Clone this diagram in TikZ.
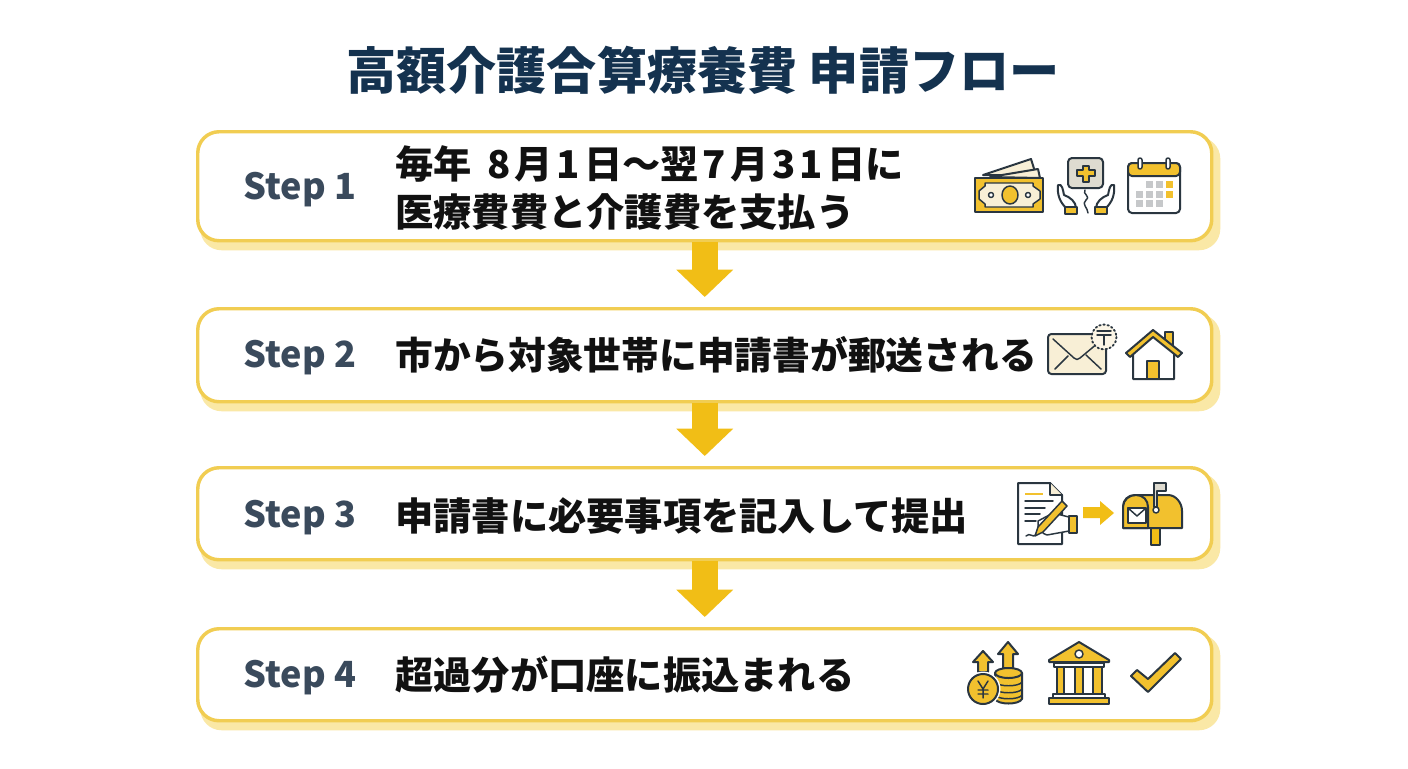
\documentclass[tikz,border=0pt]{standalone}
\usepackage{fontspec}
\usetikzlibrary{arrows.meta,calc}
\newfontfamily\jpfont{Noto Sans CJK JP}
\definecolor{navy}{HTML}{14324F}
\definecolor{slate}{HTML}{3A4A5C}
\definecolor{ink}{HTML}{111111}
\definecolor{edgey}{HTML}{F1CD52}
\definecolor{shade}{HTML}{FAE8A6}
\definecolor{gold}{HTML}{F2C12E}
\definecolor{arrowy}{HTML}{F1BE16}
\definecolor{icdark}{HTML}{2A3640}
\definecolor{cream}{HTML}{F8EFD6}
\definecolor{greyc}{HTML}{C6C8CA}
\definecolor{panel}{HTML}{DEDBD0}
\tikzset{
  stepbox/.style={draw=edgey,fill=white,line width=2.6pt,rounded corners=16pt,minimum width=760.5pt,anchor=north west,inner sep=0pt},
  stepshadow/.style={fill=shade,rounded corners=16pt,minimum width=765pt,anchor=north west,inner sep=0pt},
  steplabel/.style={anchor=west,inner sep=0pt,text=slate,font=\jpfont\bfseries\fontsize{27}{27}\selectfont},
  steptext/.style={anchor=west,inner sep=0pt,text=ink,align=left,font=\jpfont\bfseries\fontsize{28.7}{36}\selectfont},
  titletext/.style={inner sep=0pt,text=navy,font=\jpfont\bfseries\fontsize{37.6}{37.6}\selectfont},
  flow/.style={draw=arrowy,line width=19.5pt,-{Triangle[length=20.5pt,width=41.5pt]},shorten >=7.5pt},
  ic/.style={draw=icdark,line width=1.5pt,line join=round,line cap=round},
  icthin/.style={draw=icdark,line width=1.1pt,line join=round,line cap=round},
}
\newcommand{\stepcard}[3]{%
  \node[stepshadow,minimum height={(#3-#2+2)*0.75pt}] (s#1) at (200,#2+7) {};
  \node[stepbox,minimum height={(#3-#2-2)*0.75pt}] (b#1) at (196,#2) {};
}
\newcommand{\dk}{\kern 3pt}
\begin{document}
\begin{tikzpicture}[x=0.75pt,y=-0.75pt]
\useasboundingbox (0,0) rectangle (1408,768);
\fill[white] (0,0) rectangle (1408,768);
\node[titletext] (title) at (703,70) {高額介護合算療養費 申請フロー};
\stepcard{1}{130}{241}
\stepcard{2}{307}{402}
\stepcard{3}{466}{560}
\stepcard{4}{627}{721}
\draw[flow] (b1.south) -- (b2.north);
\draw[flow] (b2.south) -- (b3.north);
\draw[flow] (b3.south) -- (b4.north);
\node[steplabel] (l1) at (243.5,190) {Step 1};
\node[steplabel] (l2) at (243.5,358) {Step 2};
\node[steplabel] (l3) at (243.5,518) {Step 3};
\node[steplabel] (l4) at (243.5,678) {Step 4};
\node[steptext] (t1) at (395,188) {毎年 \kern 5pt 8\dk 月\dk 1\dk 日〜翌\dk 7\dk 月\dk 3\dk 1\dk 日に\\医療費費と介護費を支払う};
\node[steptext,font=\jpfont\bfseries\fontsize{28.3}{36}\selectfont] (t2) at (395,355) {市から対象世帯に申請書が郵送される};
\node[steptext] (t3) at (395,516) {申請書に必要事項を記入して提出};
\node[steptext] (t4) at (395,675) {超過分が口座に振込まれる};

% money
\draw[ic,fill=cream] (983,175) -- (1031,159) -- (1036,175) -- cycle;
\draw[ic,fill=cream] (990,177) -- (1038,169) -- (1040,178) -- cycle;
\draw[ic,fill=gold] (975,178) rectangle (1043,212);
\draw[icthin,fill=cream] (985,183) -- (1033,183) -- (1033,186) -- (1040,191) -- (1040,199) -- (1033,204) -- (1033,207) -- (985,207) -- (985,204) -- (979,199) -- (979,191) -- (985,186) -- cycle;
\draw[icthin,fill=gold] (1010,195) ellipse (8 and 9);
\draw[icthin,fill=white] (991,195) circle (2.5);
\draw[icthin,fill=white] (1028,195) circle (2.5);
% care
\draw[ic,fill=panel,rounded corners=3pt] (1068,158) rectangle (1103,188);
\draw[icthin,fill=gold] (1083,166) -- (1089,166) -- (1089,170) -- (1095,170) -- (1095,176) -- (1089,176) -- (1089,182) -- (1083,182) -- (1083,176) -- (1077,176) -- (1077,170) -- (1083,170) -- cycle;
\draw[icthin] (1085,190) .. controls (1082,194) and (1091,196) .. (1086,200) .. controls (1081,204) and (1088,208) .. (1088,213);
\draw[ic] (1066,208) .. controls (1060,202) and (1057,195) .. (1058,185) .. controls (1062,183) and (1063,190) .. (1064,195) .. controls (1070,197) and (1076,202) .. (1076,208);
\draw[ic] (1106,208) .. controls (1112,202) and (1115,195) .. (1114,185) .. controls (1110,183) and (1109,190) .. (1108,195) .. controls (1102,197) and (1096,202) .. (1096,208);
\draw[icthin,fill=gold] (1065,207) rectangle (1077,214);
\draw[icthin,fill=gold] (1095,207) rectangle (1107,214);
% calendar
\draw[ic,fill=white,rounded corners=3pt] (1128,163) rectangle (1180,213);
\draw[ic,fill=gold,rounded corners=3pt] (1128,176) -- (1128,163) -- (1180,163) -- (1180,176) -- cycle;
\draw[icthin,fill=white,rounded corners=1.5pt] (1138,158) rectangle (1142,169);
\draw[icthin,fill=white,rounded corners=1.5pt] (1166,158) rectangle (1170,169);
\foreach \cx/\cy/\cc in {1146/181/greyc,1156/181/greyc,1166/181/gold,1136/191/greyc,1146/191/greyc,1156/191/greyc,1166/191/gold,1136/200/greyc,1146/200/greyc,1156/200/greyc}
  \fill[\cc] (\cx,\cy) rectangle ++(7,7);
% envelope
\draw[ic,fill=cream,rounded corners=2.5pt] (1048,334) rectangle (1106,374);
\draw[icthin] (1053,339) -- (1074,358) .. controls (1076,360) and (1078,360) .. (1080,358) -- (1098,343);
\draw[icthin] (1055,369) -- (1068,356);
\draw[icthin] (1101,369) -- (1086,355);
\draw[icthin,dotted,line width=1.4pt,fill=cream!60!white] (1104,337) circle (12.5);
\draw[icthin] (1097,331) -- (1111,331) (1097,335) -- (1111,335) (1104,335) -- (1104,345);
% house
\draw[ic,fill=gold] (1165,332) rectangle (1173,346);
\draw[ic,fill=white] (1133,350) -- (1133,379) -- (1174,379) -- (1174,350) -- (1153,335) -- cycle;
\draw[icthin,fill=gold] (1147,361) rectangle (1159,379);
\draw[ic,fill=gold] (1126,353) -- (1153,330) -- (1182,353) -- (1178,357) -- (1153,337) -- (1130,357) -- cycle;
% document
\draw[ic,fill=white] (1018,483) -- (1050,483) -- (1062,495) -- (1062,544) -- (1018,544) -- cycle;
\draw[icthin,fill=cream] (1050,483) -- (1050,495) -- (1062,495);
\draw[line width=1.7pt,draw=gold] (1025,494) -- (1043,494);
\draw[icthin] (1025,501) -- (1053,501) (1025,508) -- (1045,508) (1025,514) -- (1040,514) (1025,521) -- (1036,521);
\draw[icthin] (1026,536) .. controls (1030,532) and (1032,538) .. (1036,535);
\draw[icthin,fill=white] (1038,521) -- (1053,513) -- (1069,517) -- (1069,531) -- (1047,535) .. controls (1043,534) and (1039,530) .. (1038,526) -- cycle;
\draw[icthin,fill=gold] (1062,501) -- (1067,506) -- (1043,532) -- (1035,536) -- (1038,527) -- cycle;
\draw[icthin,fill=gold] (1069,516) rectangle (1077,533);
% small arrow
\fill[arrowy] (1083,507) -- (1100,507) -- (1100,501) -- (1114,513) -- (1100,525) -- (1100,518) -- (1083,518) -- cycle;
% mailbox
\draw[ic,fill=arrowy] (1151,528) rectangle (1160,545);
\draw[ic,fill=gold] (1135,495) -- (1168,495) .. controls (1176,495) and (1182,503) .. (1182,511) -- (1182,528) -- (1123,528) -- (1123,507) .. controls (1123,500) and (1128,495) .. (1135,495) -- cycle;
\draw[ic,fill=gold] (1123,528) -- (1123,507) .. controls (1123,500) and (1129,495) .. (1136,495) .. controls (1143,495) and (1148,500) .. (1148,507) -- (1148,528) -- cycle;
\draw[icthin,fill=white] (1128,508) rectangle (1146,523);
\draw[icthin] (1128,508) -- (1137,516) -- (1146,508);
\draw[icthin,fill=panel] (1154,483) -- (1166,483) -- (1166,491) -- (1157,491) -- (1157,507) -- (1154,507) -- cycle;
\draw[icthin,fill=white] (1156,510) circle (3);
% coins
\draw[ic,fill=gold] (983,651) -- (993,662) -- (988,662) -- (988,672) -- (978,672) -- (978,662) -- (973,662) -- cycle;
\draw[ic,fill=gold] (1008,642) -- (1018,654) -- (1013,654) -- (1013,668) -- (1003,668) -- (1003,654) -- (998,654) -- cycle;
\draw[ic,fill=gold] (995,673) -- (995,699) .. controls (998,705) and (1019,705) .. (1022,699) -- (1022,673) -- cycle;
\draw[ic,fill=gold] (1008.5,673) ellipse (13.5 and 5);
\draw[icthin] (995,682) .. controls (998,687) and (1019,687) .. (1022,682);
\draw[icthin] (995,689) .. controls (998,694) and (1019,694) .. (1022,689);
\draw[icthin] (995,695) .. controls (998,700) and (1019,700) .. (1022,695);
\fill[white] (983,689) circle (17.5);
\draw[ic,fill=gold] (983,689) circle (15);
\draw[icthin] (978,681) -- (983,689) -- (988,681) (983,689) -- (983,698) (978,690) -- (988,690) (978,694) -- (988,694);
% bank
\draw[ic,fill=gold] (1079,642) -- (1109,660) -- (1109,662) -- (1049,662) -- (1049,660) -- cycle;
\draw[icthin,fill=white] (1079,654) circle (4);
\draw[icthin,fill=white] (1054,663) rectangle (1104,667);
\draw[icthin,fill=gold] (1057,667) rectangle (1064,694);
\draw[icthin,fill=gold] (1075,667) rectangle (1083,694);
\draw[icthin,fill=gold] (1093,667) rectangle (1102,694);
\draw[icthin,fill=white] (1053,694) rectangle (1105,698);
\draw[icthin,fill=gold] (1049,698) rectangle (1109,704);
% check
\draw[ic,fill=gold] (1131,676) -- (1137,670) -- (1148,679) -- (1175,653) -- (1181,659) -- (1148,692) -- cycle;
\end{tikzpicture}
\end{document}
